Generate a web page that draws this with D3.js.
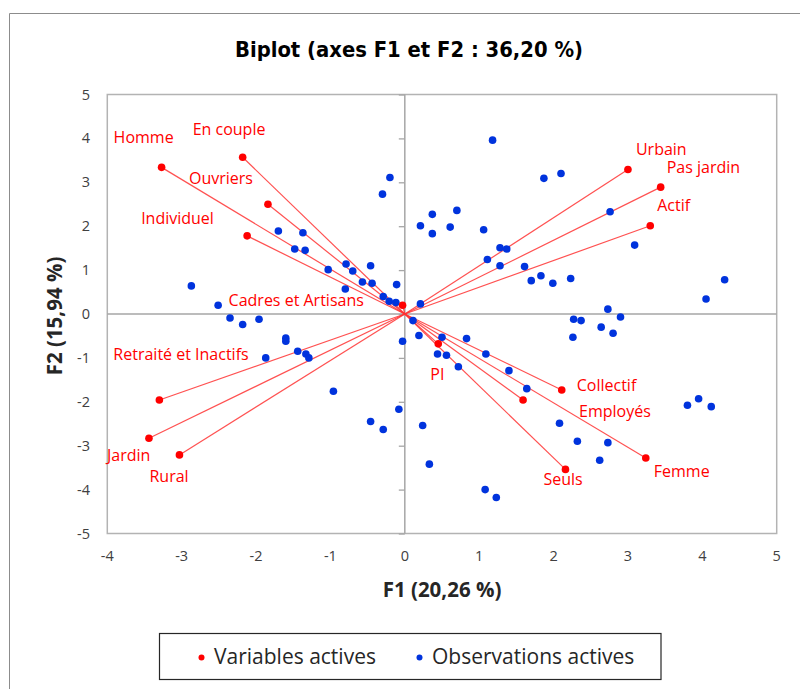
<!DOCTYPE html>
<html>
<head>
<meta charset="utf-8">
<script src="https://cdn.jsdelivr.net/npm/d3@7"></script>
<style>
  html, body { margin: 0; padding: 0; background: #fff; }
  svg { display: block; }
</style>
</head>
<body>
<svg id="chart" width="800" height="689"></svg>
<script>
// ---------- DATA ----------
const varNames = ["Homme","En couple","Ouvriers","Individuel","Cadres et Artisans",
  "Urbain","Pas jardin","Actif","Retraité et Inactifs","Jardin","Rural",
  "PI","Collectif","Employés","Femme","Seuls"];
const varF1 = [-3.27,-2.18,-1.84,-2.12,-0.03, 3.00,3.44,3.30,-3.30,-3.44,-3.03, 0.45,2.11,1.59,3.24,2.16];
const varF2 = [ 3.34, 3.57, 2.50, 1.78, 0.20, 3.29,2.89,2.01,-1.96,-2.83,-3.21,-0.68,-1.73,-1.96,-3.28,-3.54];

const obsF1 = [-0.20,-0.30,0.21,-1.70,-1.37,-1.48,-1.34,-1.03,-0.79,-0.70,-0.46,-0.57,-0.44,-0.11,-0.80,-2.87,-2.51,-0.29,-0.21,-0.12,0.21,
  -2.35,-2.18,-1.96,-1.60,-1.60,-1.87,-1.44,-1.33,-1.29,-0.96,-0.08,-0.46,-0.29,-0.03,0.11,0.19,
  0.50,0.83,0.44,0.56,0.72,1.09,1.40,1.64,0.24,0.33,1.08,1.23,2.08,2.32,2.73,2.62,3.80,3.95,4.12,
  2.27,2.37,2.26,2.64,2.80,2.90,2.73,4.05,1.18,1.87,2.10,0.37,0.37,0.70,0.61,1.06,2.76,3.09,
  1.28,1.37,1.11,1.28,1.61,1.70,1.83,1.99,2.23,4.30];
const obsF2 = [3.11,2.73,2.01,1.89,1.85,1.48,1.45,1.01,1.14,0.98,1.10,0.73,0.70,0.67,0.57,0.64,0.20,0.40,0.29,0.26,0.23,
  -0.09,-0.24,-0.12,-0.55,-0.62,-1.00,-0.85,-0.91,-1.00,-1.76,-2.17,-2.45,-2.63,-0.62,-0.15,-0.49,
  -0.53,-0.56,-0.91,-0.94,-1.20,-0.91,-1.29,-1.70,-2.54,-3.42,-4.00,-4.18,-2.49,-2.90,-2.93,-3.33,-2.08,-1.93,-2.11,
  -0.12,-0.15,-0.53,-0.30,-0.44,-0.07,0.11,0.34,3.96,3.09,3.20,2.27,1.83,2.36,1.98,1.92,2.33,1.57,
  1.51,1.48,1.24,1.10,1.08,0.76,0.87,0.70,0.81,0.78];

const xTicks = [-4,-3,-2,-1,0,1,2,3,4,5];
const yTicks = [-5,-4,-3,-2,-1,0,1,2,3,4,5];

const titleText = "Biplot (axes F1 et F2 : 36,20 %)";
const xTitle = "F1 (20,26 %)";
const yTitle = "F2 (15,94 %)";
const legendLabels = ["Variables actives","Observations actives"];

// ---------- LAYOUT (label offsets in px, not data) ----------
const labelOffset = {
  "Homme":[-48,-30], "En couple":[-50,-28], "Ouvriers":[-79,-26], "Individuel":[-106,-17],
  "Cadres et Artisans":[-174,-5], "Urbain":[8,-20], "Pas jardin":[6,-20], "Actif":[7,-20],
  "Retraité et Inactifs":[-46,-46], "Jardin":[-42,17], "Rural":[-30,21], "PI":[-8,31],
  "Collectif":[15,-5], "Employés":[56,11], "Femme":[8,13], "Seuls":[-22,10]
};

const svg = d3.select("#chart");
const x = d3.scaleLinear().domain([-4,5]).range([107.3,776.7]);
const y = d3.scaleLinear().domain([-5,5]).range([533.5,94.5]);

const RED = "#ff0000", BLUE = "#0033dd";
const labelFont = "'Open Sans', sans-serif";

// outer frame (left and top visible)
svg.append("path").attr("d","M9.5,689 V13.5 H800").attr("fill","none").attr("stroke","#8c8c8c").attr("stroke-width",1);

// title
svg.append("text").attr("x",409).attr("y",57).attr("text-anchor","middle")
  .attr("font-family","'Liberation Sans Narrow','DejaVu Sans Condensed',sans-serif")
  .attr("font-weight","bold").attr("font-size",22)
  .attr("textLength",348).attr("lengthAdjust","spacingAndGlyphs")
  .attr("fill","#000").text(titleText);

// plot border
svg.append("rect").attr("x",x(-4)).attr("y",y(5)).attr("width",x(5)-x(-4)).attr("height",y(-5)-y(5))
  .attr("fill","none").attr("stroke","#b3b3b3").attr("stroke-width",1.5);

// axes lines through origin
svg.append("line").attr("x1",x(-4)).attr("x2",x(5)).attr("y1",y(0)).attr("y2",y(0))
  .attr("stroke","#a6a6a6").attr("stroke-width",1.5);
svg.append("line").attr("x1",x(0)).attr("x2",x(0)).attr("y1",y(5)).attr("y2",y(-5))
  .attr("stroke","#a6a6a6").attr("stroke-width",1.5);

// y-axis tick marks on the vertical axis (via d3 axis)
const yAxisG = svg.append("g").attr("transform",`translate(${x(0)},0)`)
  .call(d3.axisLeft(y).tickValues(yTicks).tickSize(6).tickFormat(""));
yAxisG.select(".domain").remove();
yAxisG.selectAll(".tick line").attr("stroke","#a6a6a6").attr("stroke-width",1.3);

// y tick labels at left
svg.append("g").selectAll("text").data(yTicks).join("text")
  .attr("x",90).attr("y",d=>y(d)).attr("dy","0.35em").attr("text-anchor","end")
  .attr("font-family",labelFont).attr("font-size",14.5).attr("fill","#404040")
  .text(d=>d);

// x tick labels at bottom
svg.append("g").selectAll("text").data(xTicks).join("text")
  .attr("x",d=>x(d)).attr("y",556).attr("dy","0.35em").attr("text-anchor","middle")
  .attr("font-family",labelFont).attr("font-size",14.5).attr("fill","#404040")
  .text(d=>d);

// axis titles
svg.append("text").attr("x",442).attr("y",590).attr("dy","0.35em").attr("text-anchor","middle")
  .attr("font-family",labelFont).attr("font-weight","bold").attr("font-size",20.5).attr("fill","#262626").text(xTitle);
svg.append("text").attr("transform","translate(55,316) rotate(-90)").attr("dy","0.35em").attr("text-anchor","middle")
  .attr("font-family",labelFont).attr("font-weight","bold").attr("font-size",20.5).attr("fill","#262626").text(yTitle);

// vectors
const vars = varNames.map((n,i)=>({name:n, f1:varF1[i], f2:varF2[i]}));
const obs = obsF1.map((v,i)=>({f1:v, f2:obsF2[i]}));

svg.append("g").selectAll("line").data(vars).join("line")
  .attr("x1",x(0)).attr("y1",y(0)).attr("x2",d=>x(d.f1)).attr("y2",d=>y(d.f2))
  .attr("stroke","#ff3333").attr("stroke-opacity",0.85).attr("stroke-width",1.2);

// observations
svg.append("g").selectAll("circle").data(obs).join("circle")
  .attr("cx",d=>x(d.f1)).attr("cy",d=>y(d.f2)).attr("r",3.8).attr("fill",BLUE);

// variables
svg.append("g").selectAll("circle").data(vars).join("circle")
  .attr("cx",d=>x(d.f1)).attr("cy",d=>y(d.f2)).attr("r",3.8).attr("fill",RED);

svg.append("g").selectAll("text").data(vars).join("text")
  .attr("x",d=>x(d.f1)+labelOffset[d.name][0]).attr("y",d=>y(d.f2)+labelOffset[d.name][1])
  .attr("dy","0.35em").attr("font-family",labelFont).attr("font-size",16).attr("fill",RED)
  .text(d=>d.name);

// legend
const lg = svg.append("g");
lg.append("rect").attr("x",159.5).attr("y",633.5).attr("width",501.5).attr("height",46)
  .attr("fill","#fff").attr("stroke","#262626").attr("stroke-width",1.2);
const legendItems = [{label:legendLabels[0], color:RED, cx:201.5, tx:214},
                     {label:legendLabels[1], color:BLUE, cx:419.5, tx:432}];
lg.selectAll("circle").data(legendItems).join("circle")
  .attr("cx",d=>d.cx).attr("cy",657.5).attr("r",3).attr("fill",d=>d.color);
lg.selectAll("text").data(legendItems).join("text")
  .attr("x",d=>d.tx).attr("y",657).attr("dy","0.35em")
  .attr("font-family",labelFont).attr("font-size",21).attr("fill","#262626").text(d=>d.label);
</script>
</body>
</html>
